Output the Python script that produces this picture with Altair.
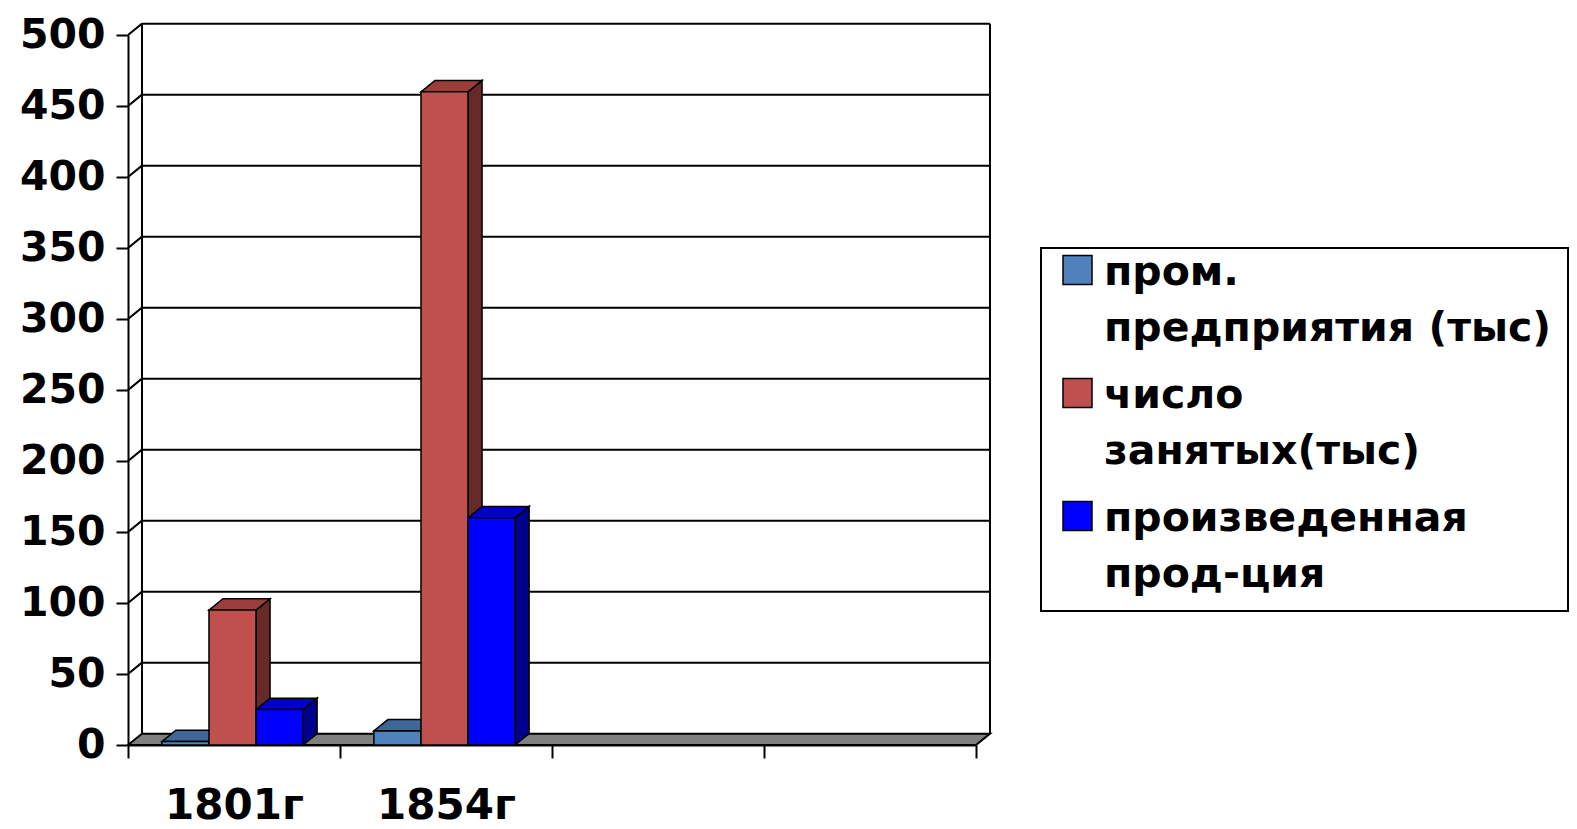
import altair as alt
import pandas as pd

# ---- data ----
categories = ["1801г", "1854г", "", " "]
series = ["пром. предприятия (тыс)", "число занятых(тыс)", "произведенная прод-ция"]
values_1801 = [2.4, 95, 25]
values_1854 = [9.9, 460, 160]
y_ticks = [0, 50, 100, 150, 200, 250, 300, 350, 400, 450, 500]

# ---- style ----
front_colors = ["#4F81BD", "#C0504D", "#0000FF"]
top_colors = ["#3E6797", "#9A3E3B", "#0000C8"]
side_colors = ["#2D4B70", "#672A28", "#00008A"]
FONT = "DejaVu Sans"
BW = 0.222   # bar width in category units
G0 = 0.16    # start of bar group inside a category
DX = 0.066   # 3D depth shift, x (category units)
DY = 8.0     # 3D depth shift, y (value units)
NCAT = len(categories)
YMAX = y_ticks[-1]

values_by_cat = {0: values_1801, 1: values_1854}
front_rows, side_rows, top_rows = [], [], []
for ci, vals in values_by_cat.items():
    for si, v in enumerate(vals):
        xl = ci + G0 + si * BW
        xr = xl + BW
        bid = f"{ci}-{si}"
        front_rows.append(dict(x=xl, x2=xr, y=0, y2=v, series=series[si]))
        side_rows += [
            dict(id=bid, x=xr, y=v, y2=0, fill=side_colors[si]),
            dict(id=bid, x=xr + DX, y=v + DY, y2=DY, fill=side_colors[si]),
        ]
        top_rows += [
            dict(id=bid, x=xl, y=v, y2=v, fill=top_colors[si]),
            dict(id=bid, x=xl + DX, y=v + DY, y2=v, fill=top_colors[si]),
            dict(id=bid, x=xr, y=v + DY, y2=v, fill=top_colors[si]),
            dict(id=bid, x=xr + DX, y=v + DY, y2=v + DY, fill=top_colors[si]),
        ]

floor_rows = [
    dict(id="floor", x=0, y=0, y2=0),
    dict(id="floor", x=DX, y=0, y2=DY),
    dict(id="floor", x=NCAT, y=0, y2=DY),
    dict(id="floor", x=NCAT + DX, y=DY, y2=DY),
]
grid_rows = [dict(x=DX, x2=NCAT + DX, y=v + DY) for v in y_ticks if v > 0]
conn_rows = [dict(x=0, x2=DX, y=v, y2=v + DY) for v in y_ticks if v > 0]
wall_rows = [dict(x=DX, y=DY, y2=YMAX + DY), dict(x=NCAT + DX, y=DY, y2=YMAX + DY)]

xs = alt.Scale(domain=[0, NCAT], nice=False, zero=False)
ys = alt.Scale(domain=[0, YMAX], nice=False)

# ticks at category boundaries, labels at category centres
x_values = sorted([i for i in range(NCAT + 1)] + [i + 0.5 for i in range(NCAT)])
label_expr = " : ".join(
    [f"datum.value == {i + 0.5} ? '{c}'" for i, c in enumerate(categories)]
) + " : ''"

x_axis = alt.Axis(
    values=x_values, title="", labelExpr=label_expr,
    labelAlign="center", labelBaseline="top", labelFlush=False, labelOverlap=False,
    tickSize=13, tickWidth=2, tickColor="black",
    tickOpacity={"condition": {"test": "datum.value % 1 != 0", "value": 0}, "value": 1},
    domainWidth=2, domainColor="black",
    labelPadding=27, labelFontSize=42, labelFont=FONT, labelFontWeight="bold",
    labelColor="black", grid=False,
)
y_axis = alt.Axis(
    values=y_ticks, title="", tickSize=12, tickWidth=2, tickColor="black",
    domainWidth=2, domainColor="black", labelPadding=11, labelFontSize=41,
    labelFont=FONT, labelFontWeight="bold", labelColor="black", grid=False,
    labelFlush=False, labelOverlap=False,
)

X = lambda f="x": alt.X(f"{f}:Q", scale=xs, axis=x_axis)
Y = lambda f="y": alt.Y(f"{f}:Q", scale=ys, axis=y_axis, stack=None)

floor = alt.Chart(pd.DataFrame(floor_rows)).mark_area(
    fill="#808080", stroke="black", strokeWidth=2, interpolate="linear"
).encode(x=X(), y=Y(), y2="y2:Q", detail="id:N")

grid = alt.Chart(pd.DataFrame(grid_rows)).mark_rule(
    color="black", strokeWidth=2
).encode(x=X(), x2="x2:Q", y=Y())

conn = alt.Chart(pd.DataFrame(conn_rows)).mark_rule(
    color="black", strokeWidth=2
).encode(x=X(), x2="x2:Q", y=Y(), y2="y2:Q")

walls = alt.Chart(pd.DataFrame(wall_rows)).mark_rule(
    color="black", strokeWidth=2
).encode(x=X(), y=Y(), y2="y2:Q")

sides = alt.Chart(pd.DataFrame(side_rows)).mark_area(
    stroke="black", strokeWidth=1.5, interpolate="linear"
).encode(x=X(), y=Y(), y2="y2:Q", detail="id:N",
         fill=alt.Fill("fill:N", scale=None))

tops = alt.Chart(pd.DataFrame(top_rows)).mark_area(
    stroke="black", strokeWidth=1.5, interpolate="linear"
).encode(x=X(), y=Y(), y2="y2:Q", detail="id:N",
         fill=alt.Fill("fill:N", scale=None))

fronts = alt.Chart(pd.DataFrame(front_rows)).mark_rect(
    stroke="black", strokeWidth=1.5
).encode(
    x=X(), x2="x2:Q", y=Y(), y2="y2:Q",
    fill=alt.Fill(
        "series:N",
        scale=alt.Scale(domain=series, range=front_colors),
        legend=alt.Legend(
            orient="none", legendX=913, legendY=213, title=None,
            symbolType="M-1,-2V0H1V-2Z", symbolSize=841, symbolStrokeColor="black",
            symbolStrokeWidth=1.5,
            labelFont=FONT, labelFontSize=41, labelFontWeight="bold",
            labelColor="black", labelLimit=800, labelOffset=6,
            labelBaseline="alphabetic",
            labelExpr="[substring(datum.label, 0, indexof(datum.label, ' ')), substring(datum.label, indexof(datum.label, ' ') + 1)]",
            padding=16, rowPadding=25, strokeColor="black", fillColor="white",
        ),
    ),
)

chart = alt.layer(floor, grid, conn, walls, sides, tops, fronts).properties(
    width=848, height=710,
    autosize=alt.AutoSizeParams(type="none"),
    padding={"left": 120, "top": 27, "right": 593, "bottom": 84},
).configure(
    style={"guide-label": {"lineHeight": 56}}
).configure_view(stroke=None).configure_legend(strokeWidth=2)

chart.save("out.html", embed_options={"renderer": "svg", "actions": False})
